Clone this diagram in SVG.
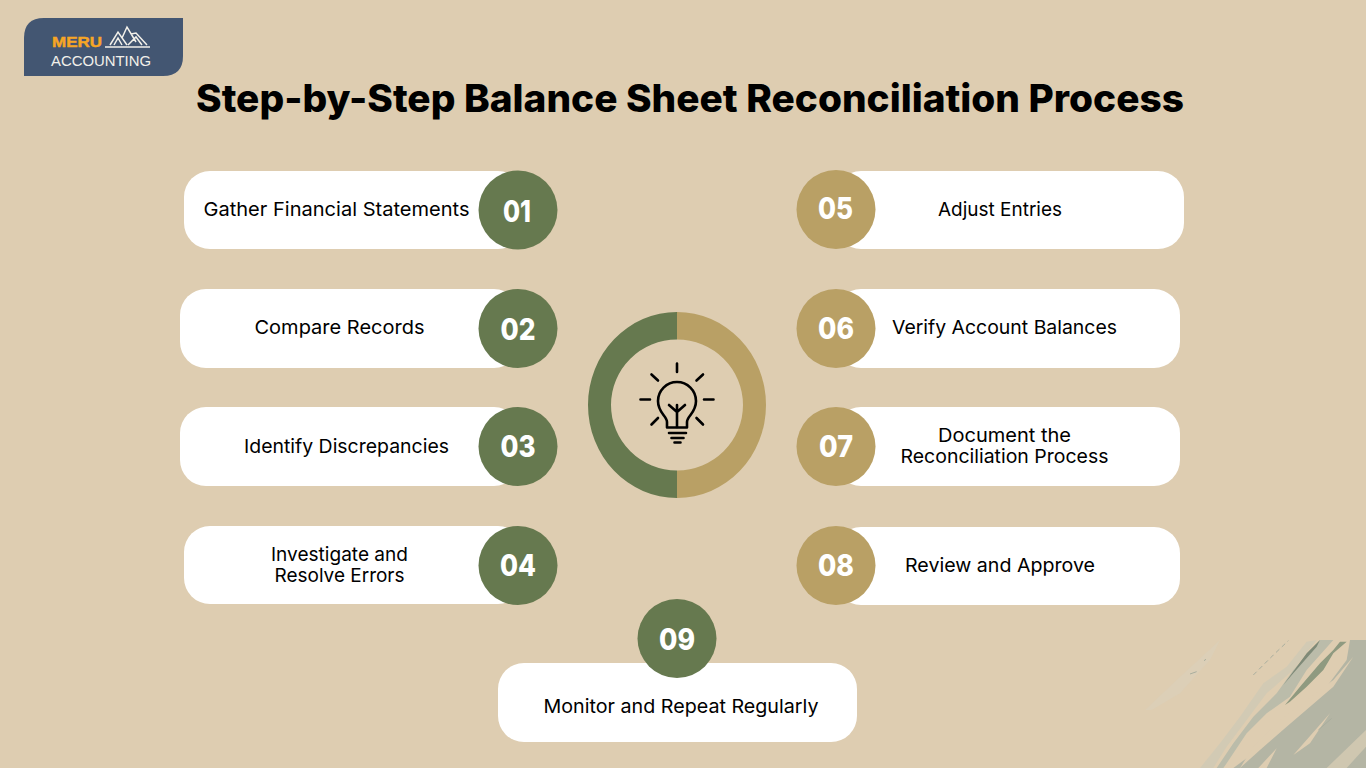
<svg xmlns="http://www.w3.org/2000/svg" width="1366" height="768" viewBox="0 0 1366 768">
<style>
.pill{fill:#fff}
.g{fill:#66794f}
.t{fill:#b9a065}
.num{font:800 30px Inter,"Open Sans","Liberation Sans",sans-serif;fill:#fff;text-anchor:middle}
.lab{font:400 19px Inter,"Open Sans","Liberation Sans",sans-serif;fill:#000;text-anchor:middle}
.ic{fill:none;stroke:#000;stroke-width:2.6;stroke-linecap:round;stroke-linejoin:round}
</style>
<defs><clipPath id="bc"><rect x="0" y="30" width="738" height="384"/></clipPath></defs>
<rect width="1366" height="768" fill="#decdb1"/>
<g id="brush" transform="translate(1120 630) scale(.33333)" clip-path="url(#bc)">
<path fill="#dccfb7" d="M75 240L170 150L300 30L270 90L180 190L95 240Z"/>
<path fill="#d2cab4" d="M240 414L300 340L360 260L430 160L500 110L560 35L590 30L520 120L440 190L380 270L320 350L280 414Z"/>
<path fill="#bbbcaa" d="M290 414L340 340L400 260L470 190L520 120L600 30L640 30L560 120L510 200L440 250L380 310L320 400L310 414Z"/>
<path fill="#b4b5a4" d="M340 414L400 370L480 290L540 240L620 170L680 90L690 30L738 30V414Z"/>
<path fill="#decdb1" d="M360 414L420 360L500 290L570 230L640 170L700 80L640 150L560 210L480 270L400 350ZM415 414L470 355L440 414ZM520 375L630 250L570 340Z"/>
<path fill="#cfc7b0" d="M620 414L738 300V350L680 414Z"/>
<path fill="#8f9a80" d="M495 225L540 170L600 100L640 60L660 35L680 35L640 70L610 120L560 170L510 215Z"/>
<path fill="#7f8a78" d="M490 165L560 70L600 30L590 50L520 130Z"/>
<path fill="none" stroke="#a9ae9e" stroke-width="3" stroke-dasharray="14 10" d="M400 135L460 75L505 32"/>
<path fill="none" stroke="#a9ae9e" stroke-width="3" d="M210 132L230 125M252 92L258 88M595 300L635 265"/>
</g>
<g id="logo">
<path fill="#435672" d="M44 18H183V56Q183 76 163 76H24V38Q24 18 44 18Z"/>
<text x="52" y="47" font-family="'Liberation Sans',sans-serif" font-weight="700" font-size="14" fill="#f7a625" textLength="50" lengthAdjust="spacingAndGlyphs" stroke="#f7a625" stroke-width=".4">MERU</text>
<text x="51" y="65.500" font-family="'Liberation Sans',sans-serif" font-size="15.500" fill="#f2f0ea" textLength="100" lengthAdjust="spacingAndGlyphs">ACCOUNTING</text>
<path fill="none" stroke="#f2f0ea" stroke-width="1.500" d="M105 47H150M110 45L118 32L127 45M114 45L118 38L122 45M122 38L127 27L136 42M131 34L136 33L147 45M128 45L136 37L142 45"/>
</g>
<text id="title" x="196" y="112" font-family="Inter,'Open Sans','Liberation Sans',sans-serif" font-weight="800" font-size="38" fill="#000" textLength="988" lengthAdjust="spacingAndGlyphs">Step-by-Step Balance Sheet Reconciliation Process</text>
<g id="connectors"></g>
<g id="step01"><rect class="pill" x="184" y="171" width="340" height="78" rx="26"/><circle class="g" cx="518" cy="210" r="39.500"/><text class="num" x="517" y="222" textLength="28" lengthAdjust="spacingAndGlyphs">01</text><text class="lab" x="336.500" y="216" textLength="266" lengthAdjust="spacingAndGlyphs">Gather Financial Statements</text></g>
<g id="step02"><rect class="pill" x="180" y="289" width="340" height="79" rx="26"/><circle class="g" cx="518" cy="328.500" r="39.500"/><text class="num" x="518" y="340" textLength="35" lengthAdjust="spacingAndGlyphs">02</text><text class="lab" x="339.500" y="334" textLength="170" lengthAdjust="spacingAndGlyphs">Compare Records</text></g>
<g id="step03"><rect class="pill" x="180" y="407" width="340" height="79" rx="26"/><circle class="g" cx="518" cy="446.500" r="39.500"/><text class="num" x="518" y="457" textLength="35" lengthAdjust="spacingAndGlyphs">03</text><text class="lab" x="346.500" y="453" textLength="205" lengthAdjust="spacingAndGlyphs">Identify Discrepancies</text></g>
<g id="step04"><rect class="pill" x="184" y="526" width="340" height="78" rx="26"/><circle class="g" cx="518" cy="565.500" r="39.500"/><text class="num" x="518" y="576" textLength="36" lengthAdjust="spacingAndGlyphs">04</text><text class="lab" x="339.500" y="561" textLength="137" lengthAdjust="spacingAndGlyphs">Investigate and</text><text class="lab" x="339.500" y="582" textLength="130" lengthAdjust="spacingAndGlyphs">Resolve Errors</text></g>
<g id="step05"><rect class="pill" x="835" y="171" width="349" height="78" rx="26"/><circle class="t" cx="836" cy="209.500" r="39.500"/><text class="num" x="835.500" y="219" textLength="35" lengthAdjust="spacingAndGlyphs">05</text><text class="lab" x="1000" y="216" textLength="124" lengthAdjust="spacingAndGlyphs">Adjust Entries</text></g>
<g id="step06"><rect class="pill" x="835" y="289" width="345" height="79" rx="26"/><circle class="t" cx="836" cy="328.500" r="39.500"/><text class="num" x="836" y="339" textLength="36" lengthAdjust="spacingAndGlyphs">06</text><text class="lab" x="1004.500" y="334" textLength="225" lengthAdjust="spacingAndGlyphs">Verify Account Balances</text></g>
<g id="step07"><rect class="pill" x="835" y="407" width="345" height="79" rx="26"/><circle class="t" cx="836" cy="446.500" r="39.500"/><text class="num" x="836" y="457" textLength="34" lengthAdjust="spacingAndGlyphs">07</text><text class="lab" x="1004.500" y="442" textLength="133" lengthAdjust="spacingAndGlyphs">Document the</text><text class="lab" x="1004.500" y="463" textLength="208" lengthAdjust="spacingAndGlyphs">Reconciliation Process</text></g>
<g id="step08"><rect class="pill" x="835" y="527" width="345" height="78" rx="26"/><circle class="t" cx="836" cy="565.500" r="39.500"/><text class="num" x="836" y="576" textLength="36" lengthAdjust="spacingAndGlyphs">08</text><text class="lab" x="1000" y="572" textLength="190" lengthAdjust="spacingAndGlyphs">Review and Approve</text></g>
<g id="step09"><rect class="pill" x="498" y="663" width="359" height="79" rx="26"/><circle class="g" cx="677" cy="638.500" r="39.500"/><text class="num" x="677" y="650" textLength="36" lengthAdjust="spacingAndGlyphs">09</text><text class="lab" x="681" y="713" textLength="275" lengthAdjust="spacingAndGlyphs">Monitor and Repeat Regularly</text></g>
<g id="hub">
<path class="g" fill-rule="evenodd" d="M677 312A89 93 0 0 0 677 498V470.500A66 65.500 0 0 1 677 339.500Z"/>
<path class="t" fill-rule="evenodd" d="M677 312A89 93 0 0 1 677 498V470.500A66 65.500 0 0 0 677 339.500Z"/>
<g class="ic">
<path d="M677 363.500V372M651.500 374.500L658 380.500M703 374.500L696.500 380.500M640.500 399.500H650M704 399.500H713.500M651.500 424.500L658 418M703 424.500L696.500 418"/>
<path d="M667 427.500V422C667 416 658 413 658 401A19 19 0 0 1 696 401C696 413 687 416 687 422V427.500Z"/>
<path d="M677 405V427M669 405L677 412L685 405M669 433H686M671.500 438H683.500M674.500 442.500H680.500"/>
</g>
</g>
</svg>
